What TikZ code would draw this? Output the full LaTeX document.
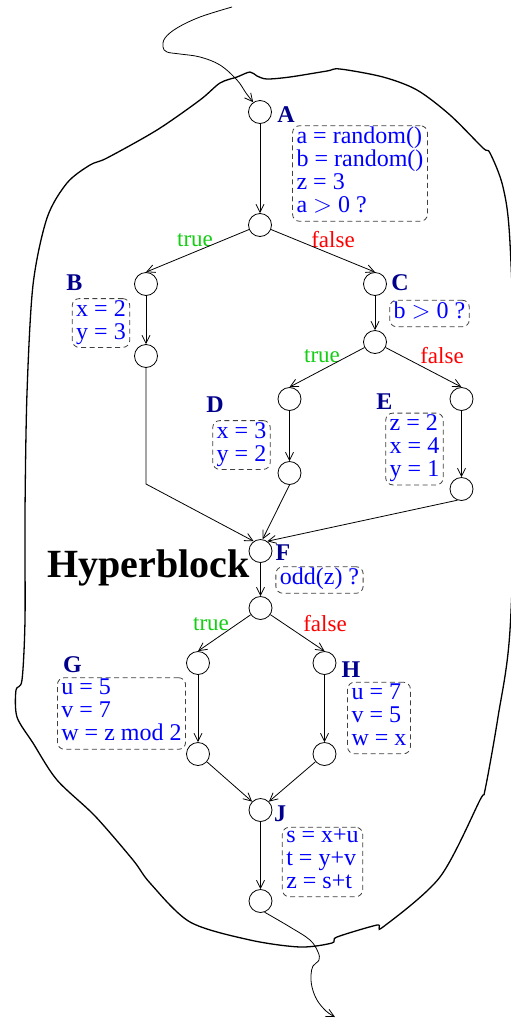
\documentclass[tikz,border=0pt]{standalone}
\usepackage{fontspec}
\setmainfont{Liberation Serif}
\usetikzlibrary{arrows.meta}

\definecolor{tagblue}{RGB}{0,0,140}
\definecolor{codeblue}{RGB}{0,0,255}
\definecolor{truegreen}{RGB}{20,205,20}
\definecolor{falsered}{RGB}{255,0,0}

\tikzset{
  blk/.style={circle, draw, minimum size=23pt, inner sep=0pt, line width=0.8pt},
  flow/.style={-{Straight Barb[length=8pt,width=8pt]}, line width=0.8pt},
  cbox/.style={draw=black!75, line width=0.8pt, dash pattern=on 5pt off 3.5pt,
    rounded corners=7pt, text=codeblue, align=left, inner xsep=4pt, inner ysep=1.5pt,
    font=\fontsize{24}{23}\selectfont,
    execute at begin node=\strut, execute at end node=\strut},
  tagl/.style={text=tagblue, inner sep=0pt, font=\fontsize{24}{24}\selectfont\bfseries},
  truelbl/.style={text=truegreen, inner sep=0pt, font=\fontsize{23}{23}\selectfont},
  falselbl/.style={text=falsered, inner sep=0pt, font=\fontsize{23}{23}\selectfont},
  hull/.style={line width=1.3pt}
}

\begin{document}
\begin{tikzpicture}[x=1pt,y=-1pt]
\useasboundingbox (0,0) rectangle (511,1018);

% The hyperblock outline
\draw[hull] plot[smooth cycle, tension=0.5] coordinates {
  (25,620) (25,513) (27,393) (33,285) (47,218) (67,183) (90,165) (107,158)
  (157,130) (200,100) (220,83) (237,77) (250,72) (257,76) (267,79) (290,77)
  (327,71) (340,69) (383,77) (417,90) (450,115) (483,148) (490,153) (503,187)
  (510,243) (516,430) (510,630) (498,717) (485,790) (480,800) (440,877)
  (383,927) (377,925) (337,937) (332,943) (300,947) (250,940) (190,922)
  (150,883) (133,860) (95,816) (57,780) (33,743) (17,717) (16,690) (22,680)};

% Basic blocks: entry and exit of each one
\node[blk] (A)  at (260,112) {};
\node[blk] (A2) at (260,225) {};
\node[blk] (B)  at (146,284) {};
\node[blk] (B2) at (146,356) {};
\node[blk] (C)  at (375,284) {};
\node[blk] (C2) at (375,342) {};
\node[blk] (D)  at (289.5,399) {};
\node[blk] (D2) at (289.5,473) {};
\node[blk] (E)  at (461.5,399) {};
\node[blk] (E2) at (461.5,489) {};
\node[blk] (F)  at (260.5,551) {};
\node[blk] (F2) at (260.5,608) {};
\node[blk] (G)  at (198,663) {};
\node[blk] (G2) at (198,754) {};
\node[blk] (H)  at (324.5,663) {};
\node[blk] (H2) at (324.5,754) {};
\node[blk] (J)  at (260.5,810) {};
\node[blk] (J2) at (260.5,901) {};

% Block names
\node[tagl] (Atag) at (286,115) {A};
\node[tagl] (Btag) at (74.5,283) {B};
\node[tagl] (Ctag) at (400,283) {C};
\node[tagl] (Dtag) at (215,405) {D};
\node[tagl] (Etag) at (384.5,402) {E};
\node[tagl] (Ftag) at (283,553) {F};
\node[tagl] (Gtag) at (72.5,665) {G};
\node[tagl] (Htag) at (351,670) {H};
\node[tagl] (Jtag) at (280,814) {J};

\node[anchor=base west, inner sep=0pt, font=\fontsize{40}{40}\selectfont\bfseries]
  (hyper) at (47,577) {Hyperblock};

% Block contents
\node[cbox] (Acode) at (360,173.5) {a = random()\\b = random()\\z = 3\\a $>$ 0 ?};
\node[cbox] (Bcode) at (101,323) {x = 2\\y = 3};
\node[cbox] (Ccode) at (429.5,313.5) {b $>$ 0 ?};
\node[cbox] (Dcode) at (241.5,445) {x = 3\\y = 2};
\node[cbox] (Ecode) at (414.5,449) {z = 2\\x = 4\\y = 1};
\node[cbox] (Fcode) at (319.5,580) {odd(z) ?};
\node[cbox] (Gcode) at (121.5,713.5) {u = 5\\v = 7\\w = z mod 2};
\node[cbox] (Hcode) at (379,718) {u = 7\\v = 5\\w = x};
\node[cbox] (Jcode) at (322.5,862) {s = x+u\\t = y+v\\z = s+t};

% Branch labels
\node[truelbl] (t1) at (195,240) {true};
\node[falselbl] (f1) at (333,240) {false};
\node[truelbl] (t2) at (322,356) {true};
\node[falselbl] (f2) at (442,356) {false};
\node[truelbl] (t3) at (211,624) {true};
\node[falselbl] (f3) at (325,624) {false};

% Control flow
\draw[flow] (A) -- (A2);
\draw[flow] (A2) -- (B.north);
\draw[flow] (A2) -- (C.north);
\draw[flow] (B) -- (B2);
\draw[flow] (C) -- (C2);
\draw[flow] (C2) -- (D.north);
\draw[flow] (C2) -- (E.north);
\draw[flow] (D) -- (D2);
\draw[flow] (E) -- (E2);
\coordinate (Bbend) at (146,484);
\draw[flow] (B2) -- (Bbend) -- (F.125);
\draw[flow] (D2.south) -- (F.80);
\draw[flow] (E2.250) -- (F.55);
\draw[flow] (F) -- (F2);
\draw[flow] (F2) -- (G.north);
\draw[flow] (F2) -- (H.north);
\draw[flow] (G) -- (G2);
\draw[flow] (H) -- (H2);
\draw[flow] (G2) -- (J.135);
\draw[flow] (H2) -- (J.45);
\draw[flow] (J) -- (J2);

% Entering and leaving the hyperblock
\coordinate (entry) at (232,7);
\coordinate (exit) at (335,1017);
\draw[flow] plot[smooth, tension=0.6] coordinates {(entry) (200,17) (177,28)
  (165,38) (163,47) (167,52) (180,54) (200,57) (220,65) (237,80) (246,93) (A.125)};
\draw[flow] plot[smooth, tension=0.6] coordinates {(J2.290) (290,927) (310,940)
  (318,952) (319,960) (313,966) (311,975) (312,987) (317,1000) (326,1011) (exit)};

\end{tikzpicture}
\end{document}
